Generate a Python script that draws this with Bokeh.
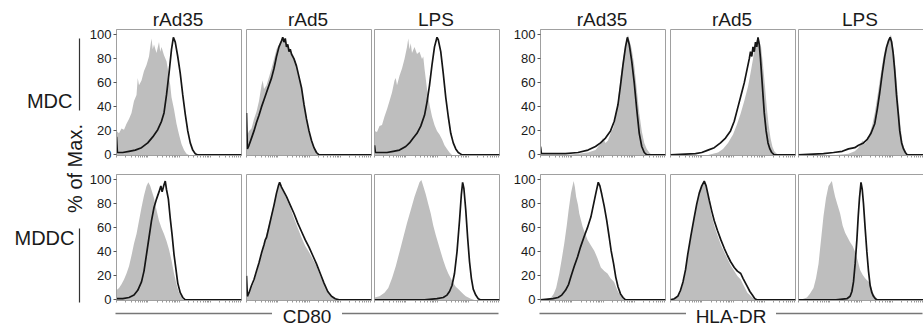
import math
from bokeh.plotting import figure
from bokeh.layouts import row, column
from bokeh.models import Range1d, FixedTicker
from bokeh.core.properties import value
from bokeh.embed import file_html
from bokeh.resources import INLINE

# ---------------- labels ----------------
stimuli = ["rAd35", "rAd5", "LPS"]
markers = ["CD80", "HLA-DR"]
cell_types = ["MDC", "MDDC"]
y_ticks = [0, 20, 40, 60, 80, 100]
y_title = "% of Max."

# ---------------- data: (channel position 0-100, % of max) ----------------
# gray = unstimulated control (filled), black = stimulated (line)
mdc_cd80_rad35_ctrl = [(0,20),(2,18),(4,22),(6,21),(8,26),(10,30),(12,35),(14,45),(16,50),(17,64),(18,58),(20,62),(22,70),(24,75),(26,82),(27,90),(28,97),(29,88),(30,92),(32,85),(34,94),(35,86),(36,90),(38,83),(40,78),(41,72),(42,65),(43,58),(44,48),(46,38),(48,26),(50,17),(52,9),(54,4),(56,1),(58,0),(100,0)]
mdc_cd80_rad35_stim = [(0,15),(0.7,2),(5,2),(10,3),(15,4),(20,6),(25,10),(29,15),(33,21),(36,28),(38,35),(40,50),(42,68),(44,88),(45.5,98),(47,94),(49,82),(51,68),(53,50),(55,34),(57,20),(59,10),(61,4),(63,1),(65,0),(100,0)]

mdc_cd80_rad5_ctrl = [(0,15),(2,20),(4,22),(6,30),(8,36),(10,45),(12,58),(13,62),(14,55),(16,58),(18,65),(20,72),(22,80),(24,88),(26,92),(28,95),(30,97),(32,92),(34,90),(36,86),(38,82),(40,75),(42,65),(44,55),(46,42),(48,30),(50,20),(52,12),(54,6),(56,2),(58,0),(100,0)]
mdc_cd80_rad5_stim = [(0,35),(0.7,5),(2,8),(4,14),(6,20),(8,27),(10,33),(12,40),(14,46),(16,52),(18,58),(20,64),(22,72),(24,82),(26,90),(28,95),(29,98),(30,94),(31,97),(32,90),(33,92),(34,86),(35,88),(36,84),(38,80),(40,74),(42,65),(44,56),(46,42),(48,30),(50,20),(52,12),(54,6),(56,2),(58,0),(100,0)]

mdc_cd80_lps_ctrl = [(0,20),(2,19),(4,24),(6,25),(8,32),(10,38),(12,45),(14,52),(16,62),(17,64),(18,58),(20,66),(22,72),(24,80),(26,90),(27,97),(28,88),(29,93),(30,85),(32,90),(34,84),(36,86),(38,80),(39,82),(40,72),(42,55),(44,42),(46,32),(48,25),(50,20),(52,17),(54,13),(56,8),(58,5),(60,2),(62,0),(100,0)]
mdc_cd80_lps_stim = [(0,8),(0.7,2),(5,2),(10,2),(15,3),(20,4),(25,7),(28,10),(31,14),(34,18),(37,24),(40,33),(42,44),(44,58),(46,75),(48,90),(50,98),(51,96),(53,86),(55,68),(57,48),(59,32),(61,18),(63,10),(65,5),(67,2),(70,0),(100,0)]

mdc_hladr_rad35_ctrl = [(0,8),(0.7,0),(20,0),(30,1),(38,2),(44,4),(47,8),(49,12),(50,14),(52,10),(54,12),(56,18),(58,22),(60,30),(62,45),(64,65),(66,80),(68,92),(69,97),(70,100),(71,96),(72,92),(73,88),(75,75),(77,55),(79,35),(81,20),(83,10),(85,5),(87,2),(89,0),(100,0)]
mdc_hladr_rad35_stim = [(0,7),(0.7,1),(10,1),(20,1),(30,2),(38,4),(44,7),(48,10),(52,14),(56,20),(59,28),(62,42),(64,58),(66,75),(68,90),(69.5,98),(71,92),(72,85),(73,78),(75,60),(77,38),(79,18),(81,7),(83,2),(85,0),(100,0)]

mdc_hladr_rad5_ctrl = [(0,0),(30,0),(38,2),(42,5),(46,10),(50,17),(53,25),(56,34),(59,45),(62,57),(64,68),(66,80),(67,88),(68.5,95),(70,97),(71,95),(72.5,90),(74,75),(75.5,58),(77,40),(78.5,25),(80,14),(81.5,7),(83,3),(85,1),(87,0),(100,0)]
mdc_hladr_rad5_stim = [(0,0),(20,1),(25,2),(30,4),(35,6),(40,10),(44,14),(48,20),(51,28),(54,40),(57,52),(59,60),(61,70),(63,80),(64,86),(65,82),(66,90),(67,86),(68,94),(69,90),(70,98),(71,92),(72,80),(73,65),(74,50),(75,35),(76.5,20),(78,10),(79.5,5),(81,2),(83,0),(100,0)]

mdc_hladr_lps_ctrl = [(0,0),(30,0),(40,1),(45,3),(48,6),(50,10),(51.5,12),(53,9),(55,12),(57,18),(59,25),(61,35),(63,48),(65,62),(67,76),(69,87),(71,94),(72.5,98),(74,100),(75,95),(76,88),(77,80),(78.5,62),(80,42),(81.5,25),(83,12),(84.5,6),(86,2),(88,0),(100,0)]
mdc_hladr_lps_stim = [(0,0),(20,1),(28,2),(35,3),(40,5),(45,6),(48,8),(52,10),(55,13),(58,18),(61,26),(63,38),(65,52),(67,68),(69,82),(70.5,90),(72,95),(73.3,98),(74.5,94),(75.7,85),(77,70),(78.4,50),(80,32),(81,20),(82.5,10),(84,5),(85.5,2),(87,0),(100,0)]

mddc_cd80_rad35_ctrl = [(0,8),(2,10),(4,13),(6,17),(8,22),(10,28),(12,37),(14,47),(16,55),(18,66),(20,77),(22,87),(24,95),(25.5,98),(27,95),(28.5,90),(30,85),(32,75),(34,66),(36,60),(38,55),(40,49),(42,42),(44,33),(46,22),(48,13),(50,6),(52,2),(54,0),(100,0)]
mddc_cd80_rad35_stim = [(0,1),(5,1),(10,2),(14,4),(17,8),(20,15),(22,24),(24,38),(26,52),(28,66),(30,77),(32,84),(34,90),(35.5,95),(36.5,90),(38,96),(39,99),(40,92),(41.5,84),(43,68),(44.5,54),(46,38),(47.5,26),(49,14),(51,6),(53,2),(55,0),(100,0)]

mddc_cd80_rad5_ctrl = [(0,5),(2,6),(4,10),(6,15),(8,22),(10,30),(12,38),(14,46),(16,55),(18,63),(20,72),(22,80),(24,90),(26,96),(28,94),(30,89),(32,84),(35,77),(38,68),(41,60),(44,52),(47,45),(50,40),(53,34),(56,28),(59,20),(62,13),(65,7),(68,3),(71,1),(74,0),(100,0)]
mddc_cd80_rad5_stim = [(0,20),(0.7,3),(2,6),(4,12),(6,17),(8,24),(10,31),(12,39),(14,46),(15,50),(16,52),(18,61),(20,70),(22,79),(24,89),(25.5,95),(26.5,98),(28,94),(30,90),(32,86),(35,79),(38,72),(41,64),(44,57),(47,50),(50,44),(53,37),(56,30),(59,22),(62,14),(65,7),(68,3),(71,1),(74,0),(100,0)]

mddc_cd80_lps_ctrl = [(0,2),(4,3),(8,6),(11,10),(14,18),(17,28),(20,40),(23,52),(26,64),(29,75),(32,86),(34,92),(36,98),(37.5,100),(39,95),(41,88),(43,80),(45,72),(47,62),(49,54),(51,47),(53,40),(55,33),(57,27),(59,22),(61,18),(63,14),(65,11),(67,9),(69,7),(71,5),(73,3),(75,2),(77,1),(80,0),(100,0)]
mddc_cd80_lps_stim = [(0,0),(40,0),(50,1),(55,2),(58,4),(60,7),(62,12),(64,22),(66,40),(68,66),(69.5,88),(70.5,98),(71.5,93),(73,75),(74.5,52),(76,32),(77.5,18),(79,9),(81,4),(83,1),(85,0),(100,0)]

mddc_hladr_rad35_ctrl = [(0,0),(6,1),(8.5,2),(10.5,5),(12.5,10),(15,22),(17,34),(19,47),(21,62),(22.5,75),(24.4,89),(26.5,99),(27.5,94),(28.5,86),(30,79),(31,72),(32.5,66),(33.7,61),(35.5,56),(37.7,50),(40,46),(43,41),(45.5,35),(48.3,27),(51,24),(53.6,22),(56,18),(58.9,15),(61.5,8),(63.5,4),(65.5,2),(68,0),(100,0)]
mddc_hladr_rad35_stim = [(0,0),(10,1),(14,2),(17,4),(20,8),(22.5,13),(24.5,20),(27,28),(29.7,36),(32,44),(35,53),(37.5,60),(40.3,69),(42.3,79),(44.3,89),(46.2,98),(47.5,95),(49,88),(51,78),(53,66),(55,52),(56.5,41),(58.5,30),(60.2,19),(62,11),(64,5),(66,2),(68,0),(100,0)]

mddc_hladr_rad5_ctrl = [(0,0),(3,1),(5.8,2),(8,6),(10,13),(12,23),(13.8,36),(16.4,52),(19,68),(21,80),(23,90),(25,96),(27,98),(28.5,94),(31,80),(33,70),(35,62),(37.5,54),(40.3,46),(43,40),(45.6,34),(48,29),(51,24),(53.5,20),(56.2,17),(58,13),(60,9),(61.5,6),(63.5,4),(65.5,2),(67.5,0),(100,0)]
mddc_hladr_rad5_stim = [(0,0),(3,1),(5.8,3),(8,8),(10,15),(12,25),(13.8,38),(16.4,54),(19,69),(21,80),(23,89),(25,95),(27,99),(28.5,95),(31,83),(33,74),(35,66),(37.5,58),(40.3,50),(43,43),(45.6,37),(48,32),(51,27),(53.5,24),(56.2,22),(58,18),(60,14),(61.5,11),(63.5,7),(65.5,4),(67.5,1),(69.5,0),(100,0)]

mddc_hladr_lps_ctrl = [(0,0),(4,1),(6.7,2),(9,5),(12,10),(14,18),(16,30),(18,50),(20,70),(22,85),(24,95),(26,98),(26.7,99),(28,92),(29.3,86),(31,80),(33.3,72),(35.3,62),(37.3,56),(39.3,52),(41.3,48),(43.3,45),(45.3,40),(47.3,33),(49.3,25),(51.3,21),(53.3,18),(55.3,16),(57.3,14),(59,8),(60,5),(62,2),(64,0),(100,0)]
mddc_hladr_lps_stim = [(0,0),(30,0),(38.7,1),(41.3,3),(42.7,7),(44,15),(45.3,30),(46.7,50),(47.8,70),(48.8,85),(50,98),(51,92),(52,80),(53.3,60),(54.7,40),(56,24),(57.3,12),(58.7,6),(60,3),(61.5,1),(63,0),(100,0)]

panel_data = [
    [(mdc_cd80_rad35_ctrl, mdc_cd80_rad35_stim), (mdc_cd80_rad5_ctrl, mdc_cd80_rad5_stim), (mdc_cd80_lps_ctrl, mdc_cd80_lps_stim),
     (mdc_hladr_rad35_ctrl, mdc_hladr_rad35_stim), (mdc_hladr_rad5_ctrl, mdc_hladr_rad5_stim), (mdc_hladr_lps_ctrl, mdc_hladr_lps_stim)],
    [(mddc_cd80_rad35_ctrl, mddc_cd80_rad35_stim), (mddc_cd80_rad5_ctrl, mddc_cd80_rad5_stim), (mddc_cd80_lps_ctrl, mddc_cd80_lps_stim),
     (mddc_hladr_rad35_ctrl, mddc_hladr_rad35_stim), (mddc_hladr_rad5_ctrl, mddc_hladr_rad5_stim), (mddc_hladr_lps_ctrl, mddc_hladr_lps_stim)],
]

# ---------------- style / layout ----------------
FONT = "Liberation Sans"
GRAY = "#bebebe"
BLACK = "#151515"
FRAME = "#a0a0a0"
TXT = "#1a1a1a"

FRAME_W = 125
FRAME_H = 126
LABEL_W = 86
HEADER_H = 28
FOOTER_H = 20
left_borders = [29, 3, 2, 40, 3, 2]
right_borders = [2, 1, 1, 2, 1, 1]
row_top = [1, 2]
row_bottom = [17, 6]

# log-decade minor ticks on the channel axis (4 decades)
minor_x = []
for d in range(4):
    for k in range(1, 10):
        minor_x.append(d * 25 + 25 * math.log10(k))


def make_panel(ctrl, stim, i, r):
    show_y = i in (0, 3)
    p = figure(frame_width=FRAME_W, frame_height=FRAME_H,
               x_range=Range1d(0, 100), y_range=Range1d(-0.5, 104.5),
               output_backend="svg", toolbar_location=None,
               min_border_left=left_borders[i], min_border_right=right_borders[i],
               min_border_top=row_top[r], min_border_bottom=row_bottom[r],
               x_axis_location="below", y_axis_location=("left" if show_y else None))
    p.grid.visible = False
    p.outline_line_color = FRAME
    p.outline_line_width = 1
    p.background_fill_color = "white"
    p.border_fill_color = "white"

    cx = [a for a, b in ctrl]
    cy = [b for a, b in ctrl]
    sx = [a for a, b in stim]
    sy = [b for a, b in stim]
    p.varea(x=cx, y1=[0] * len(cx), y2=cy, fill_color=GRAY)
    p.line(sx, sy, line_color=BLACK, line_width=1.7)

    xa = p.xaxis[0]
    xa.ticker = FixedTicker(ticks=[], minor_ticks=minor_x)
    xa.major_label_standoff = 0
    xa.minor_tick_out = 2
    xa.minor_tick_in = 0
    xa.axis_line_color = FRAME
    xa.minor_tick_line_color = "#999999"

    if show_y:
        ya = p.yaxis[0]
        ya.ticker = FixedTicker(ticks=y_ticks)
        ya.major_label_text_font = FONT
        ya.major_label_text_font_size = "13px"
        ya.major_label_text_color = TXT
        ya.major_label_standoff = 2
        ya.major_tick_out = 3
        ya.major_tick_in = 0
        ya.minor_tick_line_color = None
        ya.axis_line_color = FRAME
        ya.major_tick_line_color = "#555555"
    return p


rows = []
for r in range(2):
    figs = [make_panel(panel_data[r][i][0], panel_data[r][i][1], i, r) for i in range(6)]
    rows.append(row(*figs))

# frame positions (relative to layout left)
frame_left = []
xpos = LABEL_W
for i in range(6):
    frame_left.append(xpos + left_borders[i])
    xpos += left_borders[i] + FRAME_W + right_borders[i]
TOTAL_W = xpos
ROWS_H = sum(row_top) + sum(row_bottom) + 2 * FRAME_H


def blank(w, h):
    f = figure(width=w, height=h, x_range=Range1d(0, w), y_range=Range1d(0, h),
               output_backend="svg", toolbar_location=None,
               x_axis_location=None, y_axis_location=None,
               min_border=0, min_border_left=0, min_border_right=0,
               min_border_top=0, min_border_bottom=0)
    f.grid.visible = False
    f.outline_line_color = None
    return f


# header with stimulus titles (text centre 18.5 px below the top)
header = blank(TOTAL_W, HEADER_H)
title_x = [frame_left[i] + FRAME_W / 2 for i in range(6)]
header.text(x=title_x, y=[HEADER_H - 18.5] * 6, text=stimuli + stimuli,
            text_align="center", text_baseline="middle",
            text_font=value(FONT), text_font_size="19px", text_color=TXT)

# left labels (page coordinates, panel rows start at y = HEADER_H)
left = blank(LABEL_W, ROWS_H)


def ly(y_page):
    return ROWS_H - (y_page - HEADER_H)


left.text(x=[72], y=[ly(100.5)], text=[cell_types[0]], text_align="right", text_baseline="middle",
          text_font=value(FONT), text_font_size="20px", text_color=TXT)
left.text(x=[74], y=[ly(237)], text=[cell_types[1]], text_align="right", text_baseline="middle",
          text_font=value(FONT), text_font_size="20px", text_color=TXT)
left.segment(x0=[79, 79], y0=[ly(38), ly(228)], x1=[79, 79], y1=[ly(110), ly(302)],
             line_color="#333333", line_width=1.2)
left.text(x=[74], y=[ly(168)], text=[y_title], angle=math.pi / 2, text_align="center", text_baseline="middle",
          text_font=value(FONT), text_font_size="20px", text_color=TXT)

# footer with marker names (line 7 px, text centre 9.5 px below the top)
footer = blank(TOTAL_W, FOOTER_H)
groups = [(frame_left[0], frame_left[2] + FRAME_W, 35), (frame_left[3], frame_left[5] + FRAME_W, 45)]
for (g0, g1, half), name in zip(groups, markers):
    c = (g0 + g1) / 2
    footer.segment(x0=[g0, c + half], y0=[FOOTER_H - 7] * 2, x1=[c - half, g1], y1=[FOOTER_H - 7] * 2,
                   line_color="#777777", line_width=1.3)
    footer.text(x=[c], y=[FOOTER_H - 9.5], text=[name], text_align="center", text_baseline="middle",
                text_font=value(FONT), text_font_size="19px", text_color=TXT)

layout = column(header, row(left, column(rows[0], rows[1])), footer)

open("out.html", "w").write(file_html(layout, INLINE))
